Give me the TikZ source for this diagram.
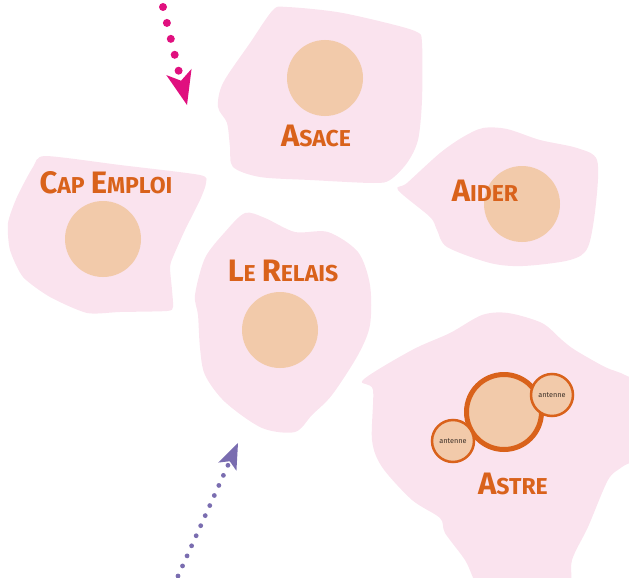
\documentclass[tikz,border=0pt]{standalone}
\usepackage{fontspec}
\setmainfont{Fira Sans}
\usetikzlibrary{arrows.meta}
\definecolor{blobpink}{HTML}{FAE3EE}
\definecolor{peach}{HTML}{F2CAAA}
\definecolor{rust}{HTML}{D9621B}
\definecolor{magentaC}{HTML}{E0107F}
\definecolor{violetC}{HTML}{7A6DB0}
\definecolor{inkC}{HTML}{3C3028}
\newcommand\bigsc[1]{{\fontsize{31}{31}\selectfont #1}}
\newcommand\smsc[1]{{\fontsize{23}{23}\selectfont #1}}
\begin{document}
\begin{tikzpicture}[x=1pt,y=-1pt,
  blob/.style={fill=blobpink, draw=none},
  core/.style={circle, fill=peach, draw=none, minimum size=76pt, inner sep=0pt},
  astrecore/.style={circle, fill=peach, draw=rust, line width=5pt, minimum size=75pt, inner sep=0pt},
  antennebox/.style={circle, fill=peach, draw=rust, line width=2.5pt, minimum size=42pt, inner sep=0pt,
     text=inkC, font=\fontsize{7.3}{7.3}\selectfont},
  lbl/.style={anchor=base, inner sep=0pt, text=rust, font=\bfseries},
  mdots/.style={magentaC, line width=8pt, line cap=round, dash pattern=on 0pt off 16.4pt,
     -{Stealth[length=34pt,width=26pt,inset=9pt,line width=0pt]}},
  vdots/.style={violetC, line width=4.8pt, line cap=round, dash pattern=on 0pt off 11.04pt,
     -{Stealth[length=26pt,width=20pt,inset=6pt,line width=0pt]}}
]
\clip (0,0) rectangle (629,578);
% blobs
\fill[blob] plot[smooth cycle, tension=0.5] coordinates {
 (273,10) (287,7) (337,12) (387,23) (417,32) (422,43) (422,100) (418,140) (407,163) (390,180)
 (373,183) (310,180) (260,177) (233,167) (230,147) (227,123) (218,107) (223,83) (250,43)};
\fill[blob] plot[smooth cycle, tension=0.4] coordinates {
 (45,156) (120,165) (200,175) (206,183) (200,200) (185,230) (173,257) (170,267) (172,290) (173,307)
 (167,311) (120,312) (87,313) (50,297) (23,277) (10,250) (8,223) (17,197) (33,167)};
\fill[blob] plot[smooth cycle, tension=0.5] coordinates {
 (483,128) (507,129) (540,140) (577,148) (597,160) (596,203) (588,247) (570,260) (523,266)
 (490,263) (447,247) (437,230) (430,217) (398,190) (407,183) (440,153) (463,137)};
\fill[blob] plot[smooth cycle, tension=0.5] coordinates {
 (245,213) (265,218) (295,232) (328,232) (358,252) (370,285) (370,325) (358,355) (332,395)
 (312,415) (295,432) (262,428) (225,402) (205,375) (200,348) (198,315) (195,295) (205,258) (225,232)};
\fill[blob] plot[smooth cycle, tension=0.5] coordinates {
 (363,380) (412,350) (450,333) (482,315) (508,313) (542,323) (562,340) (575,350) (605,367)
 (625,375) (645,390) (645,450) (622,467) (608,480) (588,527) (572,560) (565,600) (490,600)
 (465,560) (445,533) (440,518) (412,500) (382,467) (372,440) (373,390)};
% cores
\node[core] (asacecore) at (325,78) {};
\node[core] (capcore) at (103,239) {};
\node[core] (aidercore) at (522,204) {};
\node[core] (relaiscore) at (280,330) {};
\node[astrecore] (astrecore) at (504,412) {};
\node[antennebox] (ant1) at (552,395) {antenne};
\node[antennebox] (ant2) at (453,441) {antenne};
% labels
\node[lbl] (asace) at (316,146) {\bigsc{A}\smsc{SACE}};
\node[lbl] (cap) at (106,193) {\bigsc{C}\smsc{AP}\hspace{6pt}\bigsc{E}\smsc{MPLOI}};
\node[lbl] (aider) at (485,201) {\bigsc{A}\smsc{IDER}};
\node[lbl] (relais) at (283,281) {\bigsc{L}\smsc{E}\hspace{6pt}\bigsc{R}\smsc{ELAIS}};
\node[lbl] (astre) at (513,494) {\bigsc{A}\smsc{STRE}};
% arrows
\coordinate (mstart) at (163,7);
\coordinate (mtip) at (187,105);
\draw[mdots] (mstart) -- (mtip);
\coordinate (vstart) at (178,576);
\coordinate (vtip) at (238,443);
\draw[vdots] (vstart) -- (vtip);
\end{tikzpicture}
\end{document}
